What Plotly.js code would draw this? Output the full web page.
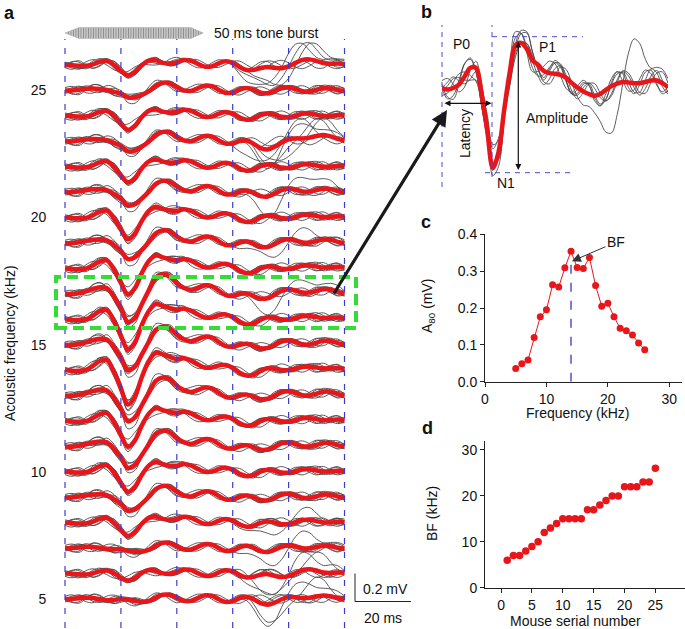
<!DOCTYPE html>
<html>
<head>
<meta charset="utf-8">
<script src="https://cdn.plot.ly/plotly-3.0.1.min.js"></script>
<style>
  html, body { margin: 0; padding: 0; background: #fff; }
  #fig { width: 685px; height: 629px; }
</style>
</head>
<body>
<div id="fig"></div>
<script>
// ---- values ----

// (a) stacked rows, one per acoustic frequency (kHz)
const FREQS = [5, 6, 7, 8, 9, 10, 11, 12, 13, 14, 15, 16, 17, 18, 19, 20, 21, 22, 23, 24, 25, 26];
// (c) A80 amplitude per frequency (mV)
const A80 = [0.036, 0.049, 0.059, 0.120, 0.176, 0.195, 0.263, 0.257, 0.309, 0.354, 0.310,
             0.307, 0.337, 0.261, 0.205, 0.213, 0.176, 0.145, 0.138, 0.127, 0.105, 0.087];
const BF_KHZ = 14;
// (d) best frequency per mouse
const MOUSE = [1, 2, 3, 4, 5, 6, 7, 8, 9, 10, 11, 12, 13, 14, 15, 16, 17, 18, 19, 20, 21, 22, 23, 24, 25];
const BF = [6, 7, 7, 8, 9, 10, 12, 13, 14, 15, 15, 15, 15, 17, 17, 18, 19, 20, 20, 22, 22, 22, 23, 23, 26];

// time grid (ms) and the averaged response from panel b (mV)
const T = [0, 2.5, 5, 7.5, 10, 12.5, 15, 17.5, 20, 22.5, 25, 27.5, 30, 32.5, 35, 37.5, 40, 42.5, 45, 47.5,
           50, 52.5, 55, 57.5, 60, 62.5, 65, 67.5, 70, 72.5, 75, 77.5, 80, 82.5, 85, 87.5, 90, 92.5, 95, 97.5, 100];
const TEMPLATE = [0, -0.004, 0.000, 0.009, 0.031, 0.054, 0.054, -0.016, -0.113, -0.214,
                  -0.172, -0.059, 0.043, 0.115, 0.121, 0.105, 0.075, 0.062, 0.046, 0.040,
                  0.038, 0.035, 0.027, 0.013, 0.001, -0.009, -0.016, -0.021, -0.016, -0.005,
                  0.005, 0.012, 0.016, 0.015, 0.013, 0.013, 0.016, 0.020, 0.020, 0.013, 0.003];

// single-trial ripple seen on the grey traces (mV)
const NOISE = [
  [0, .02, .03, .01, -.02, -.03, -.01, .02, .03, .01, -.02, -.03, -.01, .02, .025, .005, -.02, -.03, -.01, .015,
   .03, .02, -.01, -.03, -.02, .01, .03, .02, -.01, -.03, -.02, .01, .03, .025, 0, -.025, -.03, -.005, .02, .03, .01],
  [.01, -.02, -.03, 0, .03, .02, -.015, -.03, -.01, .02, .03, .005, -.025, -.025, .01, .03, .015, -.02, -.03, 0,
   .025, .025, -.01, -.03, -.015, .02, .03, .005, -.025, -.025, .01, .03, .02, -.015, -.03, -.005, .025, .025, -.01, -.03, -.01],
  [-.02, -.01, .015, .03, .015, -.015, -.03, -.02, .01, .03, .02, -.01, -.03, -.02, .01, .025, .02, -.005, -.025, -.025,
   0, .025, .025, 0, -.025, -.03, -.005, .02, .03, .01, -.02, -.03, -.01, .02, .03, .01, -.02, -.025, 0, .02, .015],
  [.02, .03, .01, -.02, -.03, -.01, .015, .03, .02, -.01, -.03, -.02, .01, .03, .02, -.015, -.035, -.02, .01, .03,
   .025, -.005, -.03, -.025, .005, .03, .025, -.005, -.03, -.025, .005, .025, .025, 0, -.025, -.025, .005, .03, .02, -.01, -.02],
  [-.01, .01, .025, .02, -.005, -.025, -.025, 0, .025, .03, .005, -.025, -.03, -.005, .02, .03, .01, -.02, -.03, -.01,
   .02, .03, .01, -.02, -.03, -.005, .025, .03, 0, -.03, -.025, .005, .03, .02, -.01, -.03, -.015, .015, .03, .01, -.015],
  [0, -.025, -.02, .01, .03, .015, -.02, -.03, 0, .025, .025, -.005, -.03, -.015, .015, .03, .01, -.02, -.025, .005,
   .03, .02, -.015, -.03, -.005, .025, .025, -.01, -.03, -.01, .02, .03, 0, -.025, -.02, .01, .03, .015, -.015, -.025, 0]
];
const GAINS = [1.0, 1.12, 0.9, 1.05, 0.85, 1.15];

// late movement artefact (mV) and the rows where some trials carry it
const ARTIFACT = [0, 0, 0, 0, 0, 0, 0, 0, 0, 0, 0, 0, 0, 0, 0, 0, 0, 0, 0, 0, 0, 0, 0, 0, 0,
                  -0.01, -0.04, -0.09, -0.14, -0.165, -0.14, -0.07, 0.01, 0.08, 0.12, 0.13, 0.11, 0.08, 0.05, 0.025, 0.01];
const ART_FREQ = [5, 6, 7, 8, 17, 19, 21, 23, 26];
const ART_GAIN = [1.0, 1.0, 0.75, 0.6, 0.7, 0.6, 0.9, 1.0, 1.0];
const ART_N = [2, 2, 1, 1, 1, 1, 1, 4, 3];
const ART_SHIFT = [0, 1, -1, 2];

const DASH_T = [0, 20, 40, 60, 80, 100];
const TONE_MS = 50;

// ---- page geometry ----
const W = 685, H = 629;
const px = x => x / W;
const py = y => 1 - y / H;
const PX_PER_MS = 2.795;
const PX_PER_KHZ = 25.43;
const PX_PER_MV = 140;
const MV_TO_KHZ = PX_PER_MV / PX_PER_KHZ;
const RED = '#e8161b';
const GREY = '#4a4a4a';
const N_REC = 14;

const yLo = 5 - (628 - 599) / PX_PER_KHZ;
const yHi = 5 + (599 - 20) / PX_PER_KHZ;
const yDashTop = 5 + (599 - 39) / PX_PER_KHZ;

const A_T = Math.max(...TEMPLATE) - Math.min(...TEMPLATE);
const traces = [];
const reds = [];

FREQS.forEach((f, r) => {
  const s = A80[r] / A_T;
  const ai = ART_FREQ.indexOf(f);
  const sign = r % 2 ? -1 : 1;
  const red = T.map(() => 0);
  for (let k = 0; k < NOISE.length; k++) {
    const nz = NOISE[(k + r) % NOISE.length];
    const g = GAINS[(k + 2 * r) % GAINS.length];
    let y = TEMPLATE.map((v, i) => v * s * g + sign * nz[i]);
    y.forEach((v, i) => { red[i] += v / NOISE.length; });
    if (ai >= 0 && k < ART_N[ai]) {
      const sh = ART_SHIFT[k];
      y = y.map((v, i) => v + ART_GAIN[ai] * (ARTIFACT[i - sh] || 0));
      ARTIFACT.forEach((v, i) => { red[i] += ART_GAIN[ai] * (ARTIFACT[i - sh] || 0) / N_REC; });
    }
    traces.push({
      x: T, y: y.map(v => f + v * MV_TO_KHZ), xaxis: 'x', yaxis: 'y',
      mode: 'lines', line: { color: GREY, width: 0.9, shape: 'spline' }, hoverinfo: 'skip'
    });
  }
  reds.push({
    x: T, y: red.map(v => f + v * MV_TO_KHZ), xaxis: 'x', yaxis: 'y',
    mode: 'lines', line: { color: RED, width: 4.5, shape: 'spline' }, hoverinfo: 'skip'
  });
});
traces.push(...reds);

// tone burst icon
const TY = 5 + (599 - 33) / PX_PER_KHZ, TH = 0.22;
traces.push({
  x: [0, 5, TONE_MS - 5, TONE_MS - 0.5, TONE_MS - 5, 5, 0],
  y: [TY, TY + TH, TY + TH, TY, TY - TH, TY - TH, TY],
  xaxis: 'x', yaxis: 'y', mode: 'lines', fill: 'toself',
  fillcolor: '#bdbdbd',
  fillpattern: { shape: '|', size: 2.5, solidity: 0.4, fgcolor: '#8c8c8c', bgcolor: '#cdcdcd' },
  line: { color: '#a8a8a8', width: 0.5 }, hoverinfo: 'skip'
});

// (b) enlarged single-frequency response
NOISE.forEach((nz, k) => {
  let y = TEMPLATE.map((v, i) => v * GAINS[k] + nz[i]);
  if (k === 2) y = y.map((v, i) => v + 0.75 * ARTIFACT[i]);
  traces.push({
    x: T, y: y, xaxis: 'x2', yaxis: 'y2', mode: 'lines',
    line: { color: GREY, width: 0.9, shape: 'spline' }, hoverinfo: 'skip'
  });
});
traces.push({
  x: T, y: TEMPLATE, xaxis: 'x2', yaxis: 'y2', mode: 'lines',
  line: { color: RED, width: 4.5, shape: 'spline' }, hoverinfo: 'skip'
});

// (c) tuning curve
traces.push({
  x: FREQS, y: A80, xaxis: 'x3', yaxis: 'y3', mode: 'lines+markers',
  line: { color: RED, width: 1 }, marker: { color: RED, size: 7 }
});

// (d) BF per mouse
traces.push({
  x: MOUSE, y: BF, xaxis: 'x4', yaxis: 'y4', mode: 'markers',
  marker: { color: RED, size: 7.5 }
});

const hidden = { visible: false, fixedrange: true };
const boxAxis = {
  showline: true, linecolor: '#222', linewidth: 1, ticks: 'outside', ticklen: 4,
  tickcolor: '#222', showgrid: false, zeroline: false, tickfont: { size: 14 }
};

const shapes = [];
DASH_T.forEach(t => shapes.push({
  type: 'line', xref: 'x', yref: 'y', x0: t, x1: t, y0: yLo, y1: yDashTop,
  line: { color: '#3b3bd1', width: 1.2, dash: '6px,8px' }
}));
// green highlight box
shapes.push({
  type: 'rect', xref: 'paper', yref: 'paper', x0: px(56), x1: px(356), y0: py(328), y1: py(277),
  line: { color: '#33dd33', width: 4, dash: '11px,6px' }
});
// scale bar
shapes.push({ type: 'line', xref: 'paper', yref: 'paper', x0: px(355), x1: px(355),
  y0: py(601.5), y1: py(601.5 - 0.2 * PX_PER_MV), line: { color: '#222', width: 1 } });
shapes.push({ type: 'line', xref: 'paper', yref: 'paper', x0: px(355), x1: px(355 + 20 * PX_PER_MS),
  y0: py(601.5), y1: py(601.5), line: { color: '#222', width: 1 } });
// panel b guides
const bDash = { color: '#4a4ad0', width: 1, dash: '5px,5px' };
shapes.push({ type: 'line', xref: 'paper', yref: 'paper', x0: px(442), x1: px(442), y0: py(187), y1: py(25), line: bDash });
shapes.push({ type: 'line', xref: 'paper', yref: 'paper', x0: px(492), x1: px(492), y0: py(177), y1: py(25), line: bDash });
shapes.push({ type: 'line', xref: 'paper', yref: 'paper', x0: px(492), x1: px(583), y0: py(36.7), y1: py(36.7), line: bDash });
shapes.push({ type: 'line', xref: 'paper', yref: 'paper', x0: px(485), x1: px(575), y0: py(172.7), y1: py(172.7), line: bDash });
// BF marker line in c
shapes.push({ type: 'line', xref: 'x3', yref: 'y3', x0: BF_KHZ, x1: BF_KHZ, y0: 0, y1: 0.33,
  line: { color: '#7b7be0', width: 2, dash: 'dash' } });

const txt = (x, y, text, extra) => Object.assign({
  xref: 'paper', yref: 'paper', x: px(x), y: py(y), text: text, showarrow: false,
  xanchor: 'center', yanchor: 'middle', font: { size: 14 }
}, extra || {});
const bold = { font: { size: 18, family: 'Liberation Sans, Arial, sans-serif', weight: 'bold' }, xanchor: 'left', yanchor: 'top' };

const annotations = [
  txt(2, 1, '<b>a</b>', bold),
  txt(419, 0, '<b>b</b>', bold),
  txt(419, 210, '<b>c</b>', bold),
  txt(420, 416, '<b>d</b>', bold),
  txt(10, 343, 'Acoustic frequency (kHz)', { textangle: -90 }),
  txt(212, 33, '50 ms tone burst', { xanchor: 'left' }),
  txt(361, 589, '0.2 mV', { xanchor: 'left' }),
  txt(362, 618, '20 ms', { xanchor: 'left' }),
  txt(461, 44, 'P0'),
  txt(547, 47, 'P1'),
  txt(506, 183, 'N1'),
  txt(524, 118, 'Amplitude', { xanchor: 'left' }),
  txt(465, 133, 'Latency', { textangle: -90 }),
  txt(428, 306, 'A<sub>80</sub> (mV)', { textangle: -90 }),
  txt(577, 413, 'Frequency (kHz)'),
  txt(432, 514, 'BF (kHz)', { textangle: -90 }),
  txt(575, 621, 'Mouse serial number'),
  // arrows
  { xref: 'paper', yref: 'paper', x: px(447), y: py(110), ax: -114, ay: 185, text: '',
    showarrow: true, arrowhead: 2, arrowsize: 1, arrowwidth: 3.2, arrowcolor: '#1a1a1a' },
  { xref: 'paper', yref: 'paper', x: px(491.5), y: py(103.3), ax: -48.5, ay: 0, text: '',
    showarrow: true, arrowside: 'end+start', arrowhead: 2, startarrowhead: 2, arrowsize: 1,
    startarrowsize: 1, arrowwidth: 1.2, arrowcolor: '#111' },
  { xref: 'paper', yref: 'paper', x: px(518.3), y: py(170), ax: 0, ay: -130, text: '',
    showarrow: true, arrowside: 'end+start', arrowhead: 2, startarrowhead: 2, arrowsize: 1,
    startarrowsize: 1, arrowwidth: 1.2, arrowcolor: '#111' },
  { xref: 'x3', yref: 'y3', x: 14.15, y: 0.327, ax: 44, ay: -19, text: 'BF', font: { size: 14 },
    showarrow: true, arrowhead: 2, arrowsize: 1.8, arrowwidth: 1, arrowcolor: '#333' }
];

const layout = {
  width: W, height: H, margin: { l: 0, r: 0, t: 0, b: 0 },
  paper_bgcolor: '#fff', plot_bgcolor: 'rgba(0,0,0,0)', showlegend: false,
  font: { family: 'Liberation Sans, Arial, sans-serif', size: 14, color: '#111' },
  xaxis: Object.assign({}, hidden, { domain: [px(65 - PX_PER_MS), px(65 + 101 * PX_PER_MS)], range: [-1, 101], anchor: 'y' }),
  yaxis: {
    domain: [py(628), py(20)], range: [yLo, yHi], anchor: 'x', fixedrange: true,
    tickvals: [5, 10, 15, 20, 25], ticks: 'outside', ticklen: 12, tickcolor: 'rgba(0,0,0,0)',
    showline: false, showgrid: false, zeroline: false, tickfont: { size: 14 }
  },
  xaxis2: Object.assign({}, hidden, { domain: [px(442), px(668)], range: [0, 100], anchor: 'y2' }),
  yaxis2: Object.assign({}, hidden, { domain: [py(195), py(20)], range: [-(195 - 88) / 373, (88 - 20) / 373], anchor: 'x2' }),
  xaxis3: Object.assign({}, boxAxis, { domain: [px(485), px(681.6)], range: [0, 32], tickvals: [0, 10, 20, 30], anchor: 'y3' }),
  yaxis3: Object.assign({}, boxAxis, { domain: [py(381.7), py(234.3)], range: [0, 0.4], tickvals: [0, 0.1, 0.2, 0.3, 0.4], tickformat: '.1f', anchor: 'x3' }),
  xaxis4: Object.assign({}, boxAxis, { domain: [px(485), px(685)], range: [-2.6, 29.8], tickvals: [0, 5, 10, 15, 20, 25], anchor: 'y4' }),
  yaxis4: Object.assign({}, boxAxis, { domain: [py(587.7), py(440.8)], range: [0, 32], tickvals: [0, 10, 20, 30], anchor: 'x4' }),
  shapes: shapes,
  annotations: annotations
};

Plotly.newPlot('fig', traces, layout, { staticPlot: true, displayModeBar: false });
</script>
</body>
</html>
